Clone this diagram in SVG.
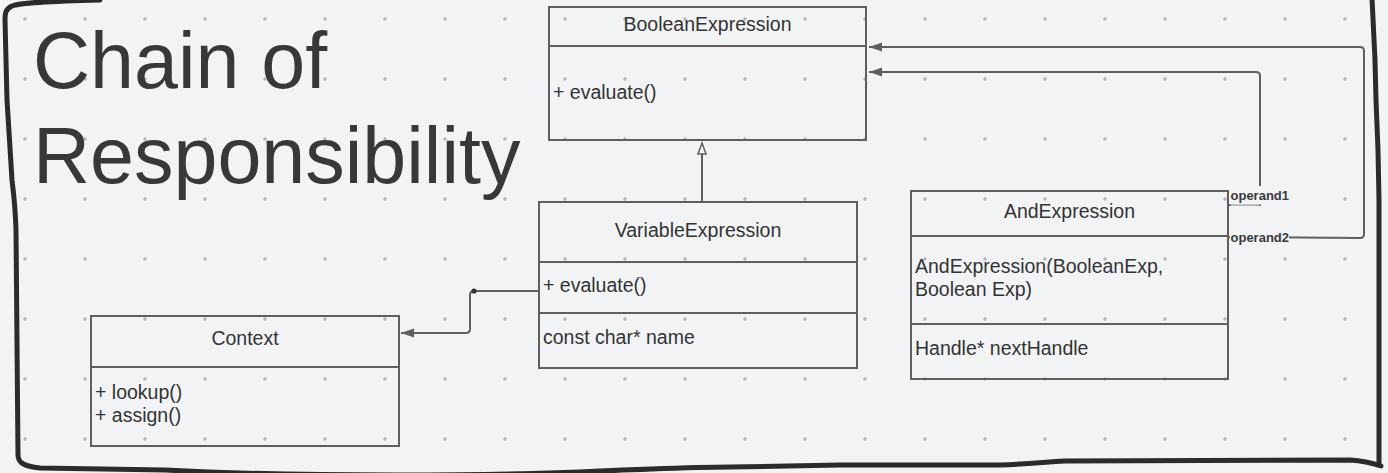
<svg xmlns="http://www.w3.org/2000/svg" width="1388" height="473" viewBox="0 0 1388 473">
<defs>
<style>
.bg{fill:#f2f3f5}
.box{fill:none;stroke:#5f5f5f;stroke-width:2}
.t{font-family:"Liberation Sans",Arial,sans-serif;font-size:19.5px;fill:#333}
.c{text-anchor:middle}
.lbl{font-family:"Liberation Sans",Arial,sans-serif;font-size:13px;font-weight:bold;fill:#3a3a3a}
.conn{fill:none;stroke:#5f5f5f;stroke-width:2}
.title{font-family:"Liberation Sans",Arial,sans-serif;font-size:79px;fill:#383838}
.border{fill:none;stroke:#2b2b2b;stroke-width:5;stroke-linecap:round;stroke-linejoin:round}
</style>
<pattern id="dots" x="0" y="0" width="60" height="60" patternUnits="userSpaceOnUse">
<circle cx="25" cy="19" r="1.7" fill="#b3b3b3"/>
</pattern>
<marker id="filled" markerWidth="14" markerHeight="10" refX="13" refY="5" orient="auto" markerUnits="userSpaceOnUse">
<path d="M0,0.5 L13,5 L0,9.5 Z" fill="#5f5f5f"/>
</marker>
<marker id="hollow" markerWidth="14" markerHeight="12" refX="12" refY="6" orient="auto" markerUnits="userSpaceOnUse">
<path d="M1,2 L12,6 L1,10 Z" fill="#f2f3f5" stroke="#5f5f5f" stroke-width="1.5" stroke-linejoin="miter"/>
</marker>
</defs>
<rect class="bg" x="0" y="0" width="1388" height="473"/>
<rect fill="url(#dots)" x="0" y="0" width="1388" height="473"/>

<g id="frame">
<path class="border" d="M100,0 C60,1 22,2 12,6 C6,9 5,12 5,20 L7,100 L12,180 C13,190 15,200 16,230 L18,455 C18,463 24,466 40,468 L165,470 C300,477 500,476 600,471 C660,469 690,467 730,467 L840,465 L1000,465 C1030,464 1045,462 1065,461 L1350,460 C1365,461 1372,463 1381,466"/>
<path class="border" d="M1372,-2 L1375,60 L1376,100 L1378,150 L1379,200 L1379,465"/>
</g>

<g id="title">
<text class="title" x="33" y="88">Chain of</text>
<text class="title" x="33" y="183">Responsibility</text>
</g>

<g id="BooleanExpression">
<rect class="box" x="549" y="7" width="317" height="133"/>
<line class="box" x1="549" y1="46" x2="866" y2="46"/>
<text class="t c" x="707.5" y="31">BooleanExpression</text>
<text class="t" x="553" y="99">+ evaluate()</text>
</g>

<g id="VariableExpression">
<rect class="box" x="539" y="202" width="318" height="166"/>
<line class="box" x1="539" y1="262" x2="857" y2="262"/>
<line class="box" x1="539" y1="313" x2="857" y2="313"/>
<text class="t c" x="698" y="237">VariableExpression</text>
<text class="t" x="543" y="292">+ evaluate()</text>
<text class="t" x="543" y="344">const char* name</text>
</g>

<g id="Context">
<rect class="box" x="91" y="316" width="308" height="130"/>
<line class="box" x1="91" y1="367" x2="399" y2="367"/>
<text class="t c" x="245" y="345">Context</text>
<text class="t" x="95" y="399">+ lookup()</text>
<text class="t" x="95" y="422">+ assign()</text>
</g>

<g id="AndExpression">
<rect class="box" x="911" y="191" width="317" height="188"/>
<line class="box" x1="911" y1="236" x2="1228" y2="236"/>
<line class="box" x1="911" y1="324" x2="1228" y2="324"/>
<text class="t c" x="1069.5" y="218">AndExpression</text>
<text class="t" x="915" y="273">AndExpression(BooleanExp,</text>
<text class="t" x="915" y="296">Boolean Exp)</text>
<text class="t" x="915" y="355">Handle* nextHandle</text>
</g>

<g id="connectors">
<path class="conn" d="M702,202 L702,143" marker-end="url(#hollow)"/>
<path class="conn" d="M539,291 L474,291 Q470,291 470,295 L470,329 Q470,333 466,333 L401,333" marker-end="url(#filled)"/>
<circle cx="474" cy="291" r="2.6" fill="#333"/>
<path class="conn" d="M1228,205 L1260,205 L1260,76 Q1260,72 1256,72 L869,72" marker-end="url(#filled)"/>
<path class="conn" d="M1228,237 L1360,238 Q1364,238 1364,234 L1364,51 Q1364,47 1360,47 L869,47" marker-end="url(#filled)"/>
<rect class="bg" x="1230" y="186" width="61" height="18.5"/>
<line x1="1231" y1="205" x2="1259" y2="205" stroke="#cfcfcf" stroke-width="1.5"/>
<rect class="bg" x="1230" y="229" width="59" height="15"/>
<text class="lbl" x="1230.5" y="200">operand1</text>
<text class="lbl" x="1230.5" y="242">operand2</text>
</g>
</svg>
